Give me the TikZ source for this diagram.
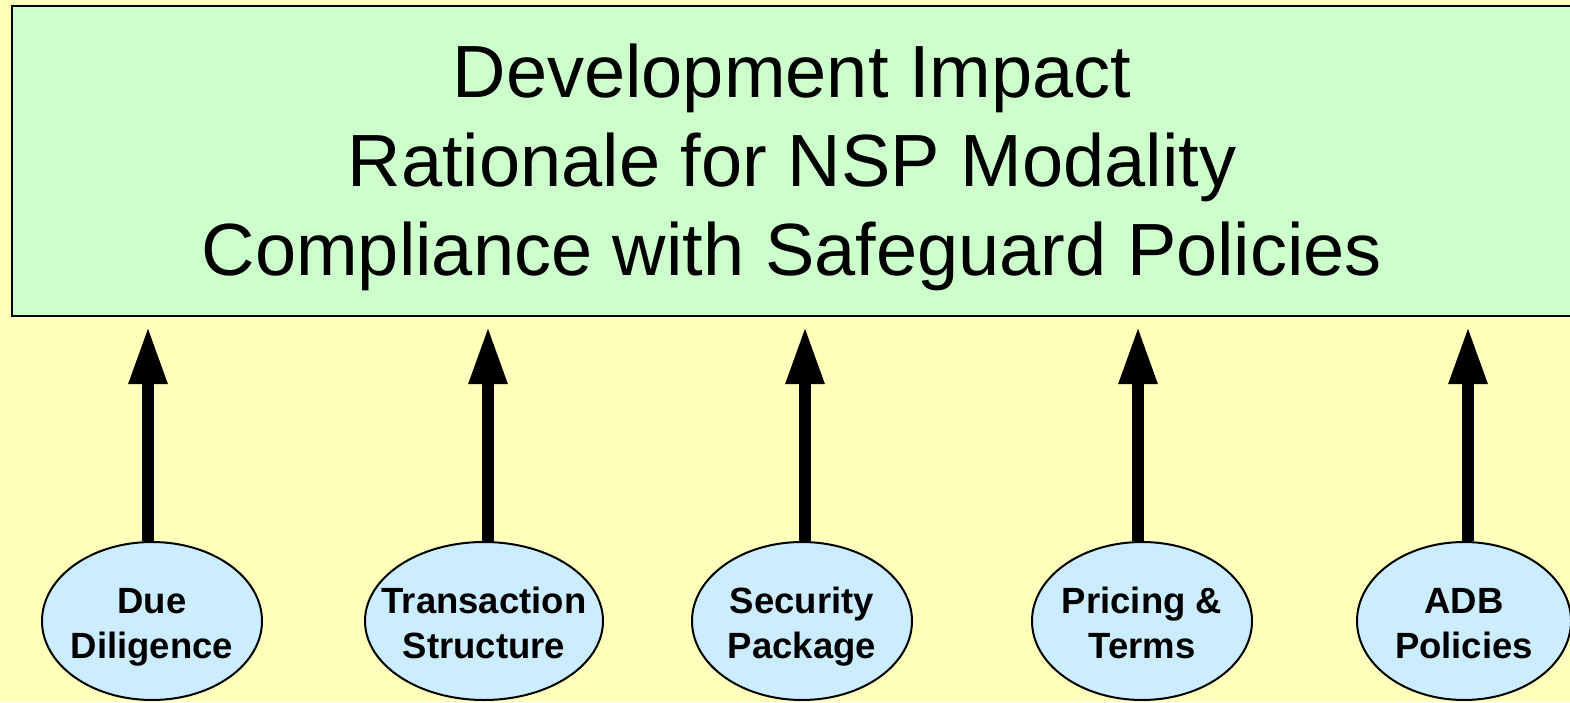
\documentclass[tikz,border=0pt]{standalone}
\usepackage{fontspec}
\setmainfont{Liberation Sans}
\usetikzlibrary{shapes.geometric,arrows.meta}

\definecolor{bgyellow}{HTML}{FFFFBB}
\definecolor{boxgreen}{HTML}{CCFFCC}
\definecolor{ovalblue}{HTML}{CCECFF}

\tikzset{
  headbox/.style={draw=black, line width=2.5pt, fill=boxgreen, minimum width=1560pt, minimum height=310pt},
  headtext/.style={inner sep=0pt, yshift=-6pt, align=center, font=\fontsize{74}{89}\selectfont},
  factor/.style={ellipse, draw=black, line width=2pt, fill=ovalblue, inner sep=0pt, minimum height=158pt},
  factortext/.style={inner sep=0pt, yshift=-6pt, align=center, font=\fontsize{36.5}{45}\selectfont\bfseries},
  feed/.style={line width=12pt, shorten >=9pt, -{Triangle[width=36pt,length=58pt]}}
}

\begin{document}
\begin{tikzpicture}[x=1pt, y=1pt]
  \useasboundingbox (0, 0) rectangle (1570, 702);
  \clip (0, 0) rectangle (1570, 702);
  \fill[bgyellow] (0, 0) rectangle (1570, 702);

  \node[headbox, label={[headtext]center:{Development Impact\\Rationale for NSP Modality\\Compliance with Safeguard Policies}}] (top) at (792, 541) {};

  % \vphantom{g} keeps the baselines level in every oval
  \node[factor, minimum width=220pt, label={[factortext]center:{Due\\Diligence}}] (due) at (152, 81) {};
  \node[factor, minimum width=238pt, label={[factortext]center:{Transaction\\Structure\vphantom{g}}}] (trans) at (484, 81) {};
  \node[factor, minimum width=220pt, label={[factortext]center:{Security\\Package}}] (sec) at (802, 81) {};
  \node[factor, minimum width=220pt, label={[factortext]center:{Pricing \&\\Terms\vphantom{g}}}] (price) at (1142, 81) {};
  \node[factor, minimum width=214pt, label={[factortext]center:{ADB\\Policies\vphantom{g}}}] (adb) at (1464, 81) {};

  % arrows sit a few points off the oval centres
  \draw[feed] ([xshift=-4pt]due.north) -- ([xshift=-4pt]due.north |- top.south);
  \draw[feed] ([xshift=4pt]trans.north) -- ([xshift=4pt]trans.north |- top.south);
  \draw[feed] ([xshift=3pt]sec.north) -- ([xshift=3pt]sec.north |- top.south);
  \draw[feed] ([xshift=-4pt]price.north) -- ([xshift=-4pt]price.north |- top.south);
  \draw[feed] ([xshift=4pt]adb.north) -- ([xshift=4pt]adb.north |- top.south);
\end{tikzpicture}
\end{document}
